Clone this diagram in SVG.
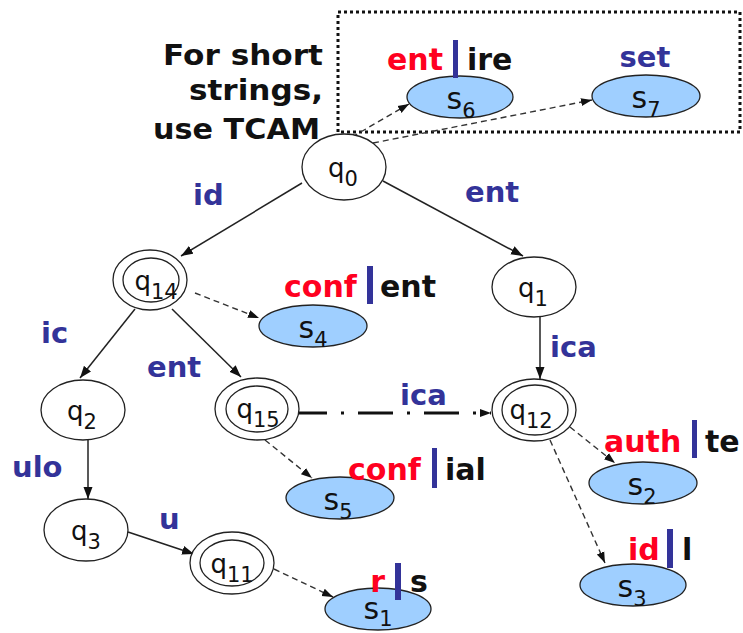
<svg xmlns="http://www.w3.org/2000/svg" width="743" height="633" viewBox="0 0 743 633">
  <defs>
    <marker id="arrow" markerUnits="userSpaceOnUse" markerWidth="13" markerHeight="10" refX="12" refY="5" orient="auto">
      <path d="M0,0.5 L12,5 L0,9.5 z" fill="#111"/>
    </marker>
    <marker id="arrow-s" markerUnits="userSpaceOnUse" markerWidth="12" markerHeight="10" refX="11" refY="4.5" orient="auto">
      <path d="M0,0.5 L11,4.5 L0,8.5 z" fill="#111"/>
    </marker>
  </defs>
  <style>
    .state { fill: #fff; stroke: #222; stroke-width: 1.3; }
    .store { fill: #9fcfff; stroke: #222; stroke-width: 1.3; }
    .lbl { font-family: "DejaVu Sans", Verdana, sans-serif; font-size: 26px; fill: #111; text-anchor: middle; }
    .slbl { font-family: "DejaVu Sans", Verdana, sans-serif; font-size: 30px; fill: #111; text-anchor: middle; }
    .sub { font-size: 21px; }
    .edge { font-family: "DejaVu Sans", Verdana, sans-serif; font-size: 29px; font-weight: bold; fill: #333399; }
    .red { font-family: "DejaVu Sans", Verdana, sans-serif; font-size: 30px; font-weight: bold; fill: #ff0020; }
    .blk { font-family: "DejaVu Sans", Verdana, sans-serif; font-size: 30px; font-weight: bold; fill: #111; }
    .note { font-family: "DejaVu Sans", Verdana, sans-serif; font-size: 29px; font-weight: bold; fill: #111; text-anchor: end; }
    .bar { fill: #333399; }
    .solid { stroke: #222; stroke-width: 1.5; fill: none; marker-end: url(#arrow); }
    .dashed { stroke: #333; stroke-width: 1.4; fill: none; stroke-dasharray: 6 4; marker-end: url(#arrow-s); }
    .dashdot { stroke: #111; stroke-width: 3; fill: none; stroke-dasharray: 35 14 3 14; marker-end: url(#arrow-s); }
  </style>

  <!-- TCAM region -->
  <rect x="338" y="12" width="402" height="120" fill="none" stroke="#111" stroke-width="3" stroke-dasharray="3 3"/>
  <text class="note" x="323" y="65" textLength="160" lengthAdjust="spacingAndGlyphs">For short</text>
  <text class="note" x="323" y="100" textLength="134" lengthAdjust="spacingAndGlyphs">strings,</text>
  <text class="note" x="320" y="139" textLength="167" lengthAdjust="spacingAndGlyphs">use TCAM</text>

  <!-- connectors -->
  <g id="connectors">
    <line class="solid" x1="302" y1="183" x2="181" y2="256"/>
    <line class="solid" x1="383" y1="181" x2="523" y2="256"/>
    <line class="solid" x1="135" y1="309" x2="80" y2="378"/>
    <line class="solid" x1="172" y1="309" x2="241" y2="377"/>
    <line class="solid" x1="540" y1="317" x2="540" y2="379"/>
    <line class="solid" x1="88" y1="440" x2="88" y2="499"/>
    <line class="solid" x1="128" y1="532" x2="194" y2="554"/>
    <line class="dashdot" x1="292" y1="413" x2="491" y2="413"/>
    <line class="dashed" x1="352" y1="137" x2="409" y2="104"/>
    <line class="dashed" x1="373" y1="143" x2="592" y2="100"/>
    <line class="dashed" x1="195" y1="293" x2="259" y2="318"/>
    <line class="dashed" x1="265" y1="440" x2="312" y2="478"/>
    <line class="dashed" x1="570" y1="427" x2="615" y2="463"/>
    <line class="dashed" x1="550" y1="440" x2="605" y2="563"/>
    <line class="dashed" x1="274" y1="569" x2="333" y2="597"/>

    <text class="edge" x="193" y="205">id</text>
    <text class="edge" x="465" y="202">ent</text>
    <text class="edge" x="41" y="343">ic</text>
    <text class="edge" x="147" y="377">ent</text>
    <text class="edge" x="550" y="357">ica</text>
    <text class="edge" x="400" y="405">ica</text>
    <text class="edge" x="12" y="477">ulo</text>
    <text class="edge" x="159" y="529">u</text>
  </g>

  <!-- states -->
  <g id="q0">
    <ellipse class="state" cx="344" cy="167" rx="42" ry="33"/>
    <text class="lbl" x="343" y="177">q<tspan class="sub" dy="9">0</tspan></text>
  </g>
  <g id="q14">
    <ellipse class="state" cx="150" cy="280" rx="37" ry="30"/>
    <ellipse class="state" cx="151" cy="280" rx="28" ry="22"/>
    <text class="lbl" x="156" y="290">q<tspan class="sub" dy="9">14</tspan></text>
  </g>
  <g id="q1">
    <ellipse class="state" cx="534" cy="287" rx="42" ry="30"/>
    <text class="lbl" x="533" y="297">q<tspan class="sub" dy="9">1</tspan></text>
  </g>
  <g id="q2">
    <ellipse class="state" cx="83" cy="410" rx="42" ry="30"/>
    <text class="lbl" x="82" y="420">q<tspan class="sub" dy="9">2</tspan></text>
  </g>
  <g id="q15">
    <ellipse class="state" cx="257" cy="409" rx="42" ry="31"/>
    <ellipse class="state" cx="257" cy="409" rx="31" ry="23"/>
    <text class="lbl" x="258" y="418">q<tspan class="sub" dy="9">15</tspan></text>
  </g>
  <g id="q12">
    <ellipse class="state" cx="534" cy="410" rx="42" ry="31"/>
    <ellipse class="state" cx="535" cy="410" rx="33" ry="25"/>
    <text class="lbl" x="531" y="419">q<tspan class="sub" dy="9">12</tspan></text>
  </g>
  <g id="q3">
    <ellipse class="state" cx="86" cy="530" rx="42" ry="31"/>
    <text class="lbl" x="86" y="540">q<tspan class="sub" dy="9">3</tspan></text>
  </g>
  <g id="q11">
    <ellipse class="state" cx="232" cy="563" rx="42" ry="31"/>
    <ellipse class="state" cx="232" cy="563" rx="32" ry="23"/>
    <text class="lbl" x="232" y="573">q<tspan class="sub" dy="9">11</tspan></text>
  </g>

  <!-- string stores -->
  <g id="s6">
    <ellipse class="store" cx="460" cy="97" rx="53" ry="21"/>
    <text class="slbl" x="461" y="109">s<tspan class="sub" dy="9">6</tspan></text>
    <text class="red" x="387" y="70">ent</text>
    <rect class="bar" x="453" y="40" width="5" height="38"/>
    <text class="blk" x="467" y="70">ire</text>
  </g>
  <g id="s7">
    <ellipse class="store" cx="646" cy="96" rx="54" ry="21"/>
    <text class="slbl" x="646" y="108">s<tspan class="sub" dy="9">7</tspan></text>
    <text class="edge" x="645" y="67" text-anchor="middle">set</text>
  </g>
  <g id="s4">
    <ellipse class="store" cx="313" cy="326" rx="54" ry="21"/>
    <text class="slbl" x="313" y="338">s<tspan class="sub" dy="9">4</tspan></text>
    <text class="red" x="284" y="297">conf</text>
    <rect class="bar" x="367" y="266" width="6" height="38"/>
    <text class="blk" x="380" y="297">ent</text>
  </g>
  <g id="s5">
    <ellipse class="store" cx="340" cy="498" rx="54" ry="21"/>
    <text class="slbl" x="338" y="510">s<tspan class="sub" dy="9">5</tspan></text>
    <text class="red" x="348" y="480">conf</text>
    <rect class="bar" x="432" y="448" width="5" height="40"/>
    <text class="blk" x="445" y="480">ial</text>
  </g>
  <g id="s2">
    <ellipse class="store" cx="643" cy="483" rx="54" ry="21"/>
    <text class="slbl" x="642" y="495">s<tspan class="sub" dy="9">2</tspan></text>
    <text class="red" x="604" y="452">auth</text>
    <rect class="bar" x="692" y="420" width="5" height="38"/>
    <text class="blk" x="705" y="452">te</text>
  </g>
  <g id="s3">
    <ellipse class="store" cx="633" cy="585" rx="53" ry="21"/>
    <text class="slbl" x="632" y="597">s<tspan class="sub" dy="9">3</tspan></text>
    <text class="red" x="628" y="560">id</text>
    <rect class="bar" x="667" y="529" width="6" height="39"/>
    <text class="blk" x="682" y="560">l</text>
  </g>
  <g id="s1">
    <ellipse class="store" cx="378" cy="609" rx="53" ry="21"/>
    <text class="slbl" x="378" y="619">s<tspan class="sub" dy="7">1</tspan></text>
    <text class="red" x="385" y="592" text-anchor="end">r</text>
    <rect class="bar" x="395" y="563" width="6" height="37"/>
    <text class="blk" x="410" y="592">s</text>
  </g>
</svg>
